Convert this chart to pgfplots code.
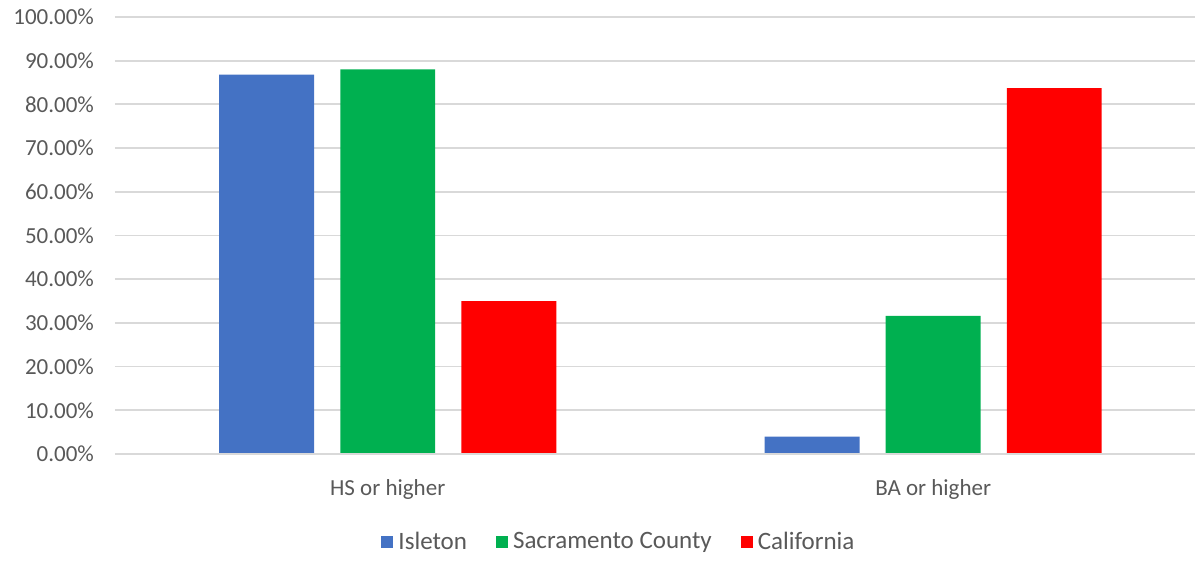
\documentclass[border=0pt]{standalone}
\usepackage{pgfplots}
\pgfplotsset{compat=1.18}
\usepackage{fontspec}
\setmainfont{Carlito}
\definecolor{txtgray}{HTML}{595959}
\definecolor{gridgray}{HTML}{D9D9D9}
\definecolor{isleton}{HTML}{4472C4}
\definecolor{sacco}{HTML}{00B050}
\definecolor{calif}{HTML}{FF0000}
\begin{document}
\begin{tikzpicture}
\begin{axis}[
  name=ax,
  scale only axis,
  width=540pt, height=218.5pt,
  xmin=-0.5, xmax=1.48,
  ymin=0, ymax=100,
  ytick={0,10,...,100},
  xtick={0,1},
  xticklabels={HS or higher, BA or higher},
  axis line style={draw=none},
  axis x line*=bottom,
  major tick length=0pt,
  ymajorgrids,
  grid style={gridgray, line width=0.9pt},
  font=\fontsize{11.5}{13}\selectfont,
  tick label style={txtgray},
  /pgf/number format/assume math mode=true,
  yticklabel={\pgfmathprintnumber[fixed,fixed zerofill,precision=2]{\tick}\%},
  yticklabel style={xshift=-7pt},
  xticklabel style={yshift=-9pt},
  bar width=0.174,
  legend style={at={(0.468,-0.201)}, anchor=center, draw=none,
    legend columns=-1, text=txtgray, font=\fontsize{12.5}{14}\selectfont,
    nodes={inner xsep=2.5pt},
    /tikz/every even column/.append style={column sep=12pt}},
  legend image code/.code={\fill[#1] (0pt,-3pt) rectangle (6pt,3pt);},
]
\addplot[ybar, fill=isleton, draw=none, bar shift=-0.222] coordinates {(0,86.8) (1,4.0)};
\addplot[ybar, fill=sacco, draw=none, bar shift=0] coordinates {(0,88.0) (1,31.6)};
\addplot[ybar, fill=calif, draw=none, bar shift=0.222] coordinates {(0,35.0) (1,83.75)};
\legend{Isleton, Sacramento County, California}
\draw[gridgray, line width=0.9pt] (rel axis cs:0,0) -- (rel axis cs:1,0);
\end{axis}
\path (ax.south west) ++(-57.5pt,-50.5pt) coordinate (bl);
\path (ax.north east) ++(2pt,8.5pt) coordinate (tr);
\path (bl) rectangle (tr);
\end{tikzpicture}
\end{document}
